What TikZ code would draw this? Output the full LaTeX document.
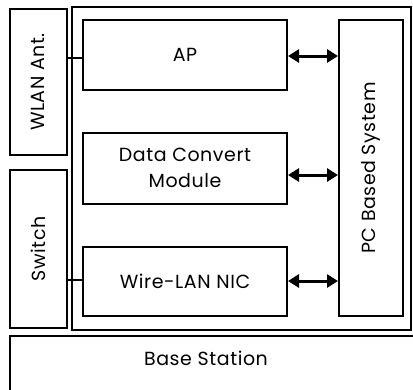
\documentclass[tikz,border=0pt]{standalone}
\usepackage{fontspec}
\setmainfont{Poppins}[LetterSpace=3]
\usetikzlibrary{arrows.meta}
\begin{document}
\begin{tikzpicture}[x=1pt,y=-1pt,
  box/.style={draw=black,line width=1.8pt,fill=white},
  lbl/.style={font=\fontsize{19}{26}\selectfont,align=center,inner sep=0pt},
  link/.style={line width=1.2pt},
  biarrow/.style={line width=3pt,{Triangle[length=11pt,width=13pt]}-{Triangle[length=11pt,width=13pt]}}]
\useasboundingbox (0,0) rectangle (413,389);
\clip (0,0) rectangle (413,389);
% base station
\draw[line width=1.8pt] (10,395) -- (10,336) -- (420,336);
\node[lbl] (bs) at (206,358) {Base Station};
% container
\draw[line width=1.8pt] (72,7) rectangle (411,330);
% left boxes
\draw[box] (10,9) rectangle (67,155);
\node[lbl,rotate=90] (wlan) at (38,82) {WLAN Ant.};
\draw[box] (10,170) rectangle (67,328);
\node[lbl,rotate=90] (sw) at (38,249) {Switch};
% inner boxes
\draw[box] (83,20) rectangle (287,90);
\node[lbl] (ap) at (185,55) {AP};
\draw[box] (83,133) rectangle (287,204);
\node[lbl] (dcm) at (185,168) {Data Convert\\Module};
\draw[box] (83,247) rectangle (287,316);
\node[lbl] (nic) at (185,281) {Wire-LAN NIC};
\draw[box] (339,20) rectangle (403,316);
\node[lbl,rotate=90] (pc) at (371,168) {PC Based System};
% coordinates
\coordinate (wlanR) at (67,58);
\coordinate (apL) at (83,58);
\coordinate (swR) at (67,280);
\coordinate (nicL) at (83,280);
\coordinate (apR) at (288,56);
\coordinate (pcA) at (338,56);
\coordinate (dcmR) at (288,175);
\coordinate (pcB) at (338,175);
\coordinate (nicR) at (288,281);
\coordinate (pcC) at (338,281);
\draw[link] (wlanR) -- (apL);
\draw[link] (swR) -- (nicL);
\draw[biarrow] (apR) -- (pcA);
\draw[biarrow] (dcmR) -- (pcB);
\draw[biarrow] (nicR) -- (pcC);
\end{tikzpicture}
\end{document}
